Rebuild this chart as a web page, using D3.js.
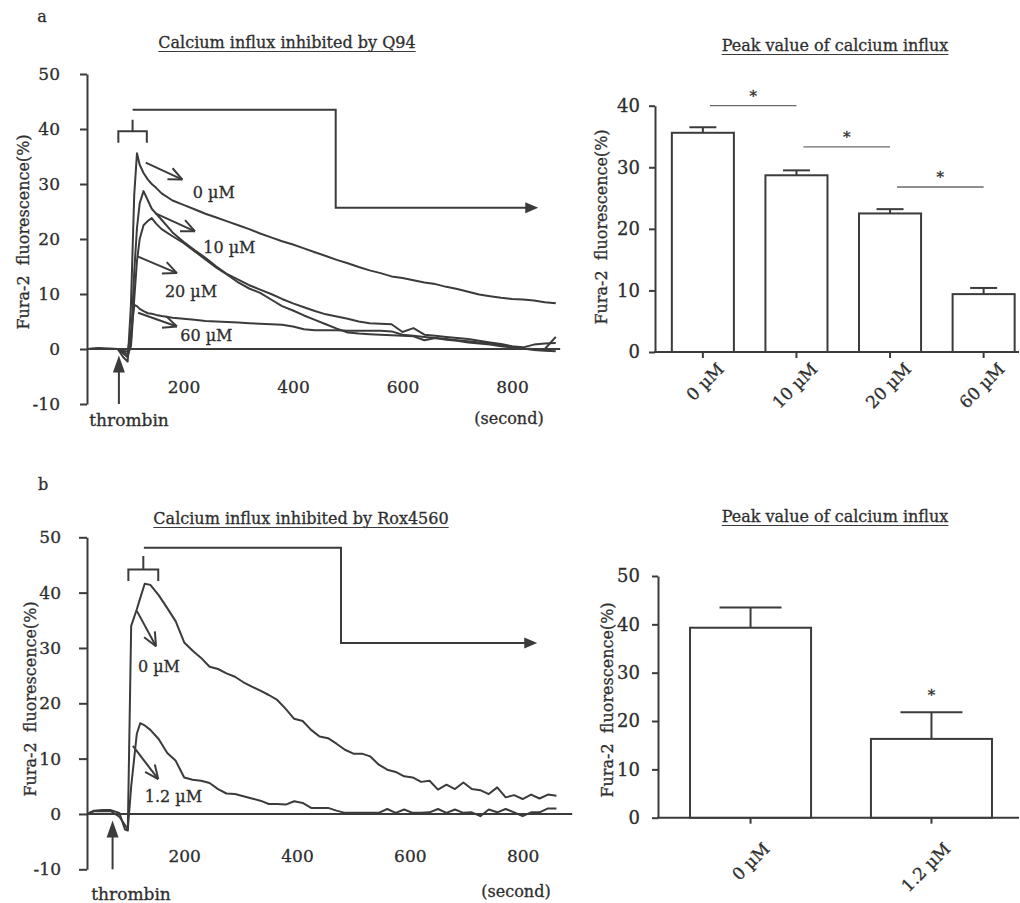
<!DOCTYPE html>
<html lang="en">
<head>
<meta charset="UTF-8">
<title>Calcium influx</title>
<script src="https://cdn.jsdelivr.net/npm/d3@7"></script>
<style>
    body { margin: 0; background: #fff; }
    svg text { font-family: "DejaVu Serif", "Liberation Serif", serif; fill: #2e2e2e;
        stroke: #2e2e2e; stroke-width: 0.3px; }
</style>
</head>
<body>
<svg width="1020" height="903"></svg>

<script>
    // ---- panel a : Q94 traces (time in seconds, Fura-2 fluorescence %)
    var timeA = [25, 45, 65, 80, 90, 98, 104, 110, 115, 120, 127, 135, 142, 150,
        160, 180, 200, 220, 240, 260, 280, 300, 320, 340, 360, 380, 400, 420, 440, 460, 480,
        500, 520, 540, 560, 580, 600, 620, 640, 660, 680, 700, 720, 740, 760, 780, 800,
        820, 840, 860, 880];
    var q94_0 = [0, 0.2, 0, 0, -1.5, -2.3, 8, 28, 35.6, 33.5, 32, 30.8, 30, 29.3,
        28.3, 27.0, 26.2, 25.4, 24.6, 23.9, 23.2, 22.5, 21.8, 21.0, 20.3, 19.6, 19.0, 18.3, 17.6, 16.9, 16.2,
        15.6, 14.9, 14.3, 13.8, 13.2, 12.9, 12.5, 12.1, 11.8, 11.3, 10.9, 10.4, 9.9, 9.6, 9.3, 9.1,
        9.0, 8.8, 8.5, 8.3];
    var q94_10 = [0, 0.1, 0, 0, -0.8, -1.5, 1, 14, 22, 26.5, 28.7, 27, 25.5, 24.6,
        23.5, 21.2, 19.5, 18.0, 16.6, 15.0, 13.6, 12.6, 11.6, 10.8, 10.0, 9.1, 8.3, 7.6, 6.9, 6.3, 5.9,
        5.5, 5.0, 4.7, 4.6, 4.5, 3.1, 3.8, 2.6, 2.4, 2.2, 2.0, 1.8, 1.5, 1.2, 0.9, 0.5,
        0.3, 0.8, 1.0, 1.1];
    var q94_20 = [0, 0, 0.1, 0, -0.5, -1, 0.5, 9, 16, 20, 22.5, 23.3, 23.8, 22.8,
        21.8, 20.5, 19.3, 17.8, 16.3, 14.8, 13.5, 12.1, 11.0, 10.2, 9.0, 7.8, 7.0, 6.1, 5.3, 4.5, 3.7,
        3.0, 2.8, 2.7, 2.6, 2.5, 2.4, 2.3, 1.6, 2.0, 1.8, 1.6, 1.4, 1.2, 1.0, 0.7, 0.4,
        0.1, -0.2, -0.3, -0.4];
    var q94_60 = [0, 0, 0, 0, -0.3, -0.5, 3, 8.0, 7.8, 7.3, 6.9, 6.5, 6.4, 6.2,
        6.0, 5.7, 5.5, 5.3, 5.1, 5.0, 4.9, 4.8, 4.7, 4.6, 4.5, 4.4, 4.1, 3.6, 3.4, 3.4, 3.4,
        3.3, 3.3, 3.3, 3.3, 3.2, 2.6, 2.4, 2.2, 2.0, 1.7, 1.5, 1.2, 1.0, 0.8, 0.5, 0.3,
        0.1, 0.0, 0.0, 2.2];

    // ---- panel b : Rox4560 traces
    var timeB = [28, 40, 55, 70, 85, 95, 100, 106, 116, 122, 130,
        140, 155, 170, 185, 200, 215, 230, 245, 260, 275, 290, 305, 320, 335, 350, 365, 380,
        395, 410, 425, 440, 455, 470, 485, 500, 515, 530, 545, 560, 575, 590, 605, 620, 635,
        650, 665, 680, 695, 710, 725, 740, 755, 770, 785, 800, 815, 830, 845, 860];
    var rox_0 = [0, 0.6, 0.7, 0.7, 0.2, -2.8, -3.0, 34, 37, 39, 41.6,
        41.4, 39.5, 37.2, 34.8, 31.0, 29.5, 28.2, 26.6, 26.2, 25.4, 24.8, 23.8, 23.0, 22.3, 21.5, 20.6, 19.0,
        17.2, 16.8, 15.2, 14.0, 13.7, 12.7, 11.6, 10.9, 10.9, 10.4, 8.9, 8.0, 7.6, 6.8, 6.6, 5.8, 6.0,
        4.4, 5.3, 4.5, 5.7, 4.5, 4.3, 3.6, 4.8, 3.0, 3.4, 2.7, 3.5, 2.8, 3.5, 3.3];
    var rox_12 = [0, 0.5, 0.5, 0.5, -0.5, -2.0, -2.8, 5, 14.5, 16.4, 16.0,
        15.2, 13.5, 11.0, 9.6, 6.6, 6.2, 6.0, 5.6, 4.5, 3.7, 3.6, 3.2, 2.8, 2.4, 1.8, 1.8, 1.7,
        2.3, 2.0, 1.1, 1.1, 1.1, 0.6, 0.2, 0.2, 0.2, 0.2, 0.2, 0.9, 0.2, 0.8, 0.2, 0.2, 0.3,
        0.9, 0.2, 0.8, 0.2, 0.3, -0.4, 0.8, 0.3, 0.9, 0.3, -0.4, 0.3, 0.3, 1.0, 1.0];

    var traceTicksX = [200, 400, 600, 800];
    var traceTicksY = [-10, 0, 10, 20, 30, 40, 50];

    // ---- peak bars
    var barCatsA = ['0 µM', '10 µM', '20 µM', '60 µM'];
    var barMeanA = [35.6, 28.7, 22.5, 9.4];
    var barErrA = [0.9, 0.8, 0.7, 1.0];
    var sigPairsA = [[0, 1, 40], [1, 2, 33.3], [2, 3, 26.8]];

    var barCatsB = ['0 µM', '1.2 µM'];
    var barMeanB = [39.3, 16.3];
    var barErrB = [4.2, 5.5];

    var ink = '#3b3b3b';
    var svg = d3.select('svg');

    function styleAxis(g, size) {
        g.selectAll('path,line').attr('stroke', ink).attr('stroke-width', 2);
        g.selectAll('text').style('font-size', size + 'px').attr('fill', '#2e2e2e')
            .style('font-family', '"DejaVu Serif", serif');
    }

    function title(cx, y, txt, size) {
        var t = svg.append('text').attr('x', cx).attr('y', y).attr('text-anchor', 'middle')
            .style('font-size', size + 'px').text(txt);
        var w = t.node().getComputedTextLength();
        svg.append('line').attr('x1', cx - w / 2).attr('x2', cx + w / 2)
            .attr('y1', y + 3.5).attr('y2', y + 3.5).attr('stroke', ink).attr('stroke-width', 1.2);
    }

    function yLabel(cx, cy) {
        svg.append('text').attr('transform', 'translate(' + cx + ',' + cy + ') rotate(-90)')
            .attr('text-anchor', 'middle').attr('dy', '0.35em').style('font-size', '16px')
            .attr('xml:space', 'preserve').text('Fura-2  fluorescence(%)');
    }

    // pointer arrow with open head, ends given in data units
    function pointer(g, x, y, a, b) {
        var x1 = x(a[0]), y1 = y(a[1]), x2 = x(b[0]), y2 = y(b[1]);
        g.append('line').attr('x1', x1).attr('y1', y1).attr('x2', x2).attr('y2', y2);
        var ang = Math.atan2(y1 - y2, x1 - x2);
        [-0.42, 0.42].forEach(function (d) {
            g.append('line').attr('x1', x2).attr('y1', y2)
                .attr('x2', x2 + 15 * Math.cos(ang + d)).attr('y2', y2 + 15 * Math.sin(ang + d));
        });
    }

    function tracePanel(o) {
        var x = d3.scaleLinear().domain([0, 900]).range(o.xr);
        var y = d3.scaleLinear().domain([-10, 50]).range(o.yr);
        var g = svg.append('g');

        var ya = g.append('g').attr('transform', 'translate(' + o.axisX + ',0)')
            .call(d3.axisLeft(y).tickValues(traceTicksY).tickSize(o.tick).tickSizeOuter(0)
                .tickPadding(o.pad).tickFormat(function (d) { return String(d); }));
        styleAxis(ya, 17);

        g.append('line').attr('x1', o.axisX).attr('x2', x(888)).attr('y1', y(0)).attr('y2', y(0))
            .attr('stroke', ink).attr('stroke-width', 2);

        var xa = g.append('g').attr('transform', 'translate(0,' + y(0) + ')')
            .call(d3.axisBottom(x).tickValues(traceTicksX).tickSize(0).tickPadding(o.xpad));
        xa.select('.domain').remove();
        styleAxis(xa, 17);

        var line = d3.line().x(function (d) { return x(d[0]); }).y(function (d) { return y(d[1]); });
        o.series.forEach(function (s) {
            g.append('path').attr('d', line(d3.zip(o.time, s))).attr('fill', 'none')
                .attr('stroke', ink).attr('stroke-width', 2).attr('stroke-linejoin', 'round');
        });

        var ann = g.append('g').attr('stroke', ink).attr('stroke-width', 2).attr('fill', 'none');
        // bracket over the peak
        var br = o.bracket;
        ann.append('path').attr('d', 'M' + x(br[0]) + ',' + y(br[3]) + 'V' + y(br[2]) + 'H' + x(br[1]) + 'V' + y(br[3])
            + 'M' + x((br[0] + br[1]) / 2) + ',' + y(br[2]) + 'V' + y(br[4]));
        // elbow connector to the bar chart
        var c = o.conn;
        ann.append('path').attr('d', 'M' + x(c[0]) + ',' + y(c[3]) + 'H' + x(c[1]) + 'V' + y(c[4]) + 'H' + (x(c[2]) - 10));
        g.append('path').attr('fill', ink)
            .attr('d', 'M' + x(c[2]) + ',' + y(c[4]) + 'l-13,-5.5v11z');

        o.labels.forEach(function (l) {
            pointer(ann, x, y, l.from, l.to);
            g.append('text').attr('x', x(l.at[0])).attr('y', y(l.at[1])).attr('dy', '0.35em')
                .style('font-size', '16px').text(l.name);
        });

        // thrombin arrow
        var tx = x(o.thrombin);
        ann.append('line').attr('x1', tx).attr('x2', tx).attr('y1', y(-10)).attr('y2', y(-3.2));
        g.append('path').attr('fill', ink)
            .attr('d', 'M' + tx + ',' + y(-1.2) + 'l-6,17h12z');
        g.append('text').attr('x', o.thrombinText[0]).attr('y', o.thrombinText[1])
            .attr('text-anchor', 'middle').style('font-size', '17px').text('thrombin');
        g.append('text').attr('x', o.secondText[0]).attr('y', o.secondText[1])
            .attr('text-anchor', 'middle').style('font-size', '16px').text('(second)');
    }

    function barPanel(o) {
        var x = d3.scaleBand().domain(o.cats).range(o.xr).paddingInner(o.pi).paddingOuter(o.po);
        var y = d3.scaleLinear().domain([0, o.max]).range(o.yr);
        var g = svg.append('g');

        var ya = g.append('g').attr('transform', 'translate(' + o.axisX + ',0)')
            .call(d3.axisLeft(y).ticks(o.max / 10).tickSize(6).tickSizeOuter(0).tickPadding(o.pad));
        styleAxis(ya, 18);

        g.append('line').attr('x1', o.axisX - 1).attr('x2', 1019).attr('y1', y(0)).attr('y2', y(0))
            .attr('stroke', ink).attr('stroke-width', 2);

        var xa = g.append('g').attr('transform', 'translate(0,' + y(0) + ')')
            .call(d3.axisBottom(x).tickSize(6).tickSizeOuter(0));
        xa.select('.domain').remove();
        styleAxis(xa, 17);
        xa.selectAll('text').attr('x', 0).attr('y', 0).attr('dy', '0.35em')
            .attr('text-anchor', 'end').attr('transform', o.labelShift + ' rotate(-45)');

        g.selectAll('rect.bar').data(o.mean).enter().append('rect')
            .attr('x', function (d, i) { return x(o.cats[i]); })
            .attr('width', x.bandwidth())
            .attr('y', function (d) { return y(d); })
            .attr('height', function (d) { return y(0) - y(d); })
            .attr('fill', '#fff').attr('stroke', ink).attr('stroke-width', 2);

        var eb = g.append('g').attr('stroke', ink).attr('stroke-width', 2);
        o.mean.forEach(function (m, i) {
            var cx = x(o.cats[i]) + x.bandwidth() / 2;
            var top = y(m + o.err[i]);
            eb.append('line').attr('x1', cx).attr('x2', cx).attr('y1', y(m)).attr('y2', top);
            eb.append('line').attr('x1', cx - o.cap).attr('x2', cx + o.cap).attr('y1', top).attr('y2', top);
        });
        return {x: x, y: y, g: g};
    }

    // ---------- panel labels and titles
    svg.append('text').attr('x', 42).attr('y', 22).attr('text-anchor', 'middle').style('font-size', '16px').text('a');
    svg.append('text').attr('x', 43).attr('y', 490).attr('text-anchor', 'middle').style('font-size', '16px').text('b');
    title(287, 48, 'Calcium influx inhibited by Q94', 16);
    title(301, 524, 'Calcium influx inhibited by Rox4560', 16);
    title(835, 51, 'Peak value of calcium influx', 16);
    title(835, 522, 'Peak value of calcium influx', 16);

    yLabel(23, 232);
    yLabel(30, 699);
    yLabel(601, 227);
    yLabel(607, 700);

    // ---------- panel a traces
    tracePanel({
        xr: [74, 566.75], yr: [404, 74], axisX: 87, tick: 7, pad: 20, xpad: 32,
        time: timeA, series: [q94_0, q94_10, q94_20, q94_60],
        bracket: [81, 133, 39.6, 37.5, 41.7],
        conn: [107, 478, 848, 43.5, 25.7],
        labels: [
            {name: '0 µM', from: [131, 33.9], to: [198, 30.8], at: [217, 28.4]},
            {name: '10 µM', from: [148, 24.7], to: [221, 21.4], at: [236, 18.4]},
            {name: '20 µM', from: [117, 16.8], to: [188, 13.8], at: [166, 10.5]},
            {name: '60 µM', from: [117, 6.6], to: [188, 4.1], at: [194, 2.4]}
        ],
        thrombin: 82, thrombinText: [129, 426], secondText: [509, 424]
    });

    // ---------- panel b traces
    tracePanel({
        xr: [71.4, 579], yr: [869.3, 537.3], axisX: 87, tick: 8, pad: 18, xpad: 36,
        time: timeB, series: [rox_0, rox_12],
        bracket: [101, 154, 44.2, 42.1, 46.6],
        conn: [128.5, 478, 826, 48.1, 30.9],
        labels: [
            {name: '0 µM', from: [116, 36.7], to: [150, 30.3], at: [118, 26.7]},
            {name: '1.2 µM', from: [109, 12.3], to: [154, 6.3], at: [130, 3.2]}
        ],
        thrombin: 73, thrombinText: [131, 900], secondText: [516, 897]
    });

    // ---------- bar charts
    var pa = barPanel({
        cats: barCatsA, mean: barMeanA, err: barErrA, max: 40,
        xr: [655, 1031.5], pi: 0.337, po: 0.18, yr: [352, 105.7], axisX: 655, pad: 9,
        cap: 13.5, labelShift: 'translate(18,14)'
    });
    var sig = pa.g.append('g');
    sigPairsA.forEach(function (p) {
        var c0 = pa.x(barCatsA[p[0]]) + pa.x.bandwidth() / 2;
        var c1 = pa.x(barCatsA[p[1]]) + pa.x.bandwidth() / 2;
        sig.append('line').attr('x1', c0 + 7).attr('x2', c1).attr('y1', pa.y(p[2])).attr('y2', pa.y(p[2]))
            .attr('stroke', '#6a6a6a').attr('stroke-width', 1.3);
        sig.append('text').attr('x', (c0 + 7 + c1) / 2).attr('y', pa.y(p[2]) - 5)
            .attr('text-anchor', 'middle').style('font-size', '15px').text('*');
    });

    var pb = barPanel({
        cats: barCatsB, mean: barMeanB, err: barErrB, max: 50,
        xr: [658, 1024], pi: 0.331, po: 0.177, yr: [817.7, 576], axisX: 658, pad: 12,
        cap: 31, labelShift: 'translate(16,28)'
    });
    pb.g.append('text').attr('x', pb.x(barCatsB[1]) + pb.x.bandwidth() / 2)
        .attr('y', pb.y(barMeanB[1] + barErrB[1]) - 12)
        .attr('text-anchor', 'middle').style('font-size', '15px').text('*');
</script>
</body>
</html>
